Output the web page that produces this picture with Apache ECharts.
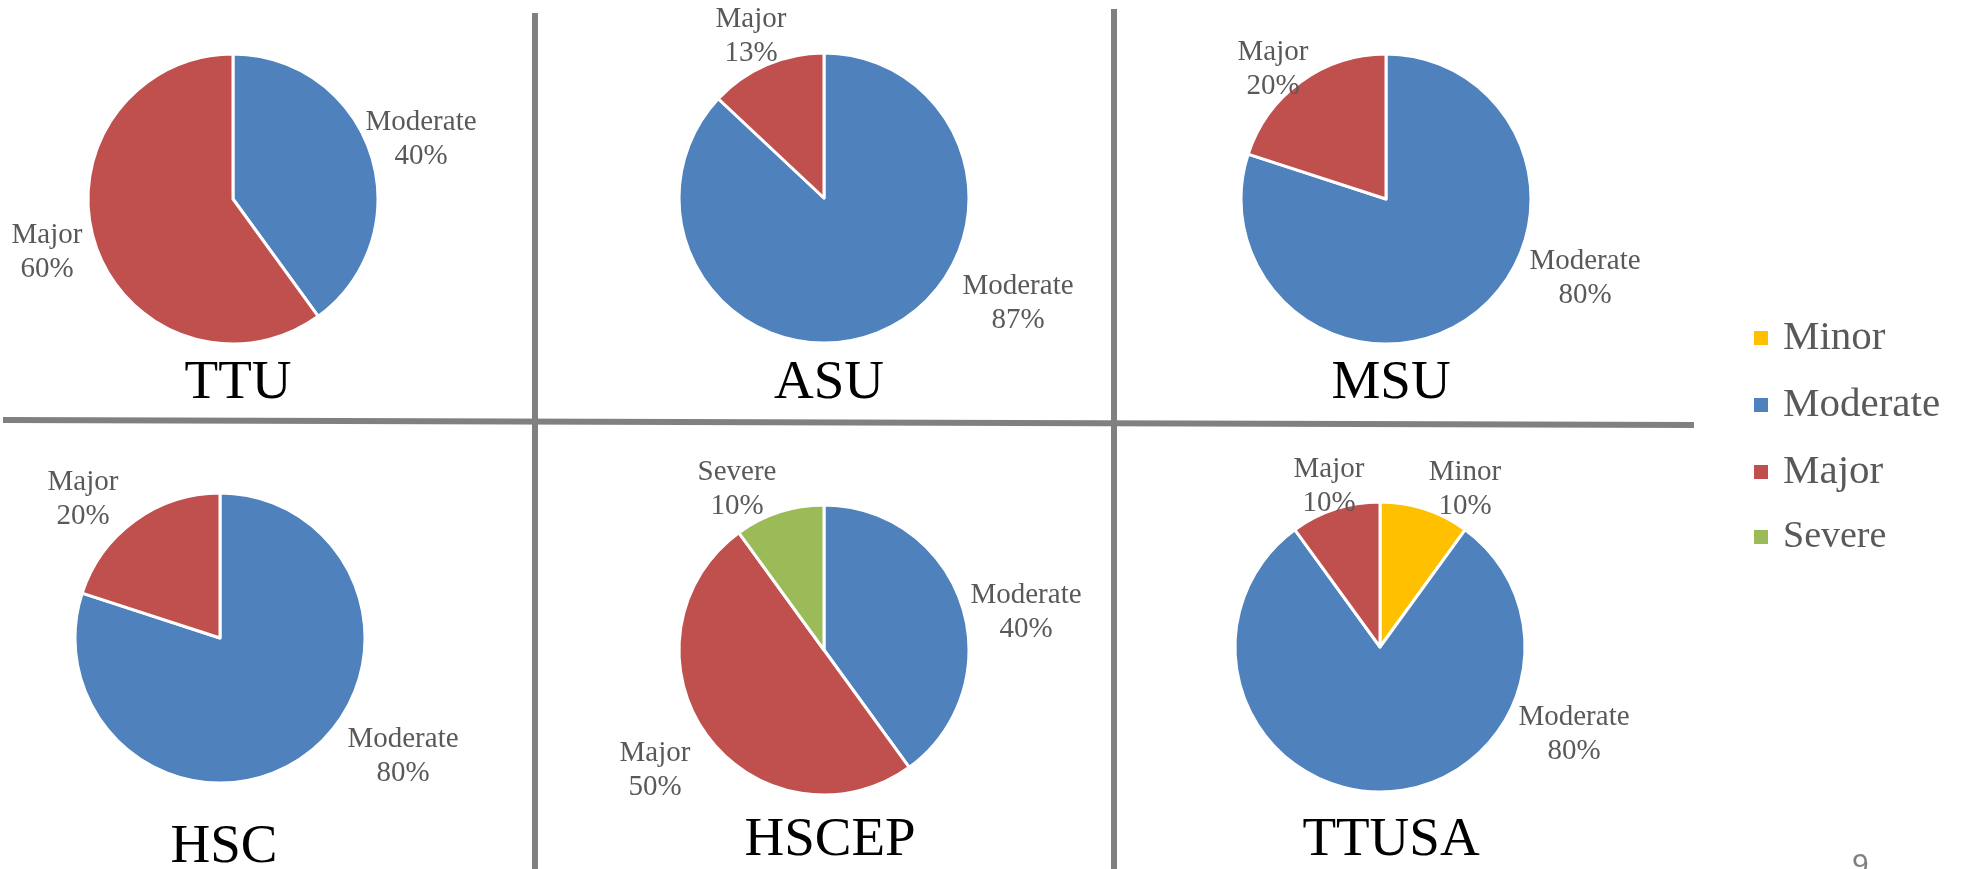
<!DOCTYPE html>
<html>
<head>
<meta charset="utf-8">
<script src="https://cdn.jsdelivr.net/npm/echarts@6/dist/echarts.min.js"></script>
<style>
  html, body { margin: 0; padding: 0; background: #fff; }
  #chart { width: 1967px; height: 869px; }
</style>
</head>
<body>
<div id="chart"></div>
<script>
// values per campus, in %
const campuses = ["TTU", "ASU", "MSU", "HSC", "HSCEP", "TTUSA"];
const categories = ["Minor", "Moderate", "Major", "Severe"];
const minor = [0, 0, 0, 0, 0, 10];
const moderate = [40, 87, 80, 80, 40, 80];
const major = [60, 13, 20, 20, 50, 10];
const severe = [0, 0, 0, 0, 10, 0];

const colors = {
  Minor: "#FFC000",
  Moderate: "#4F81BD",
  Major: "#C0504D",
  Severe: "#9BBB59",
};

// where each pie sits, and its title
const centers = [[233, 199], [824, 198], [1386, 199], [220, 638], [824, 650], [1380, 647]];
const titleY = [379, 379, 379, 843, 836, 836];
const titleX = [233, 824, 1386, 219, 825, 1386];

// label placement (offset of label centre from pie centre), Excel "best fit" look
const labelOffsets = {
  TTU: { Moderate: [188, -60], Major: [-186, 53] },
  ASU: { Major: [-73, -162], Moderate: [194, 105] },
  MSU: { Major: [-113, -130], Moderate: [199, 79] },
  HSC: { Major: [-137, -139], Moderate: [183, 118] },
  HSCEP: { Severe: [-87, -161], Moderate: [202, -38], Major: [-169, 120] },
  TTUSA: { Major: [-51, -161], Minor: [85, -158], Moderate: [194, 87] },
};

const values = { Minor: minor, Moderate: moderate, Major: major, Severe: severe };

const chart = echarts.init(document.getElementById("chart"));

const series = campuses.map((campus, i) => {
  const data = categories
    .filter((cat) => values[cat][i] > 0)
    .map((cat) => ({
      name: cat,
      value: values[cat][i],
      itemStyle: { color: colors[cat] },
    }));
  return {
    type: "pie",
    name: campus,
    center: centers[i],
    radius: 145,
    startAngle: 90,
    clockwise: true,
    avoidLabelOverlap: false,
    animation: false,
    data: data,
    itemStyle: { borderColor: "#fff", borderWidth: 3 },
    emphasis: { disabled: true },
    label: {
      show: true,
      position: "outside",
      formatter: "{b}\n{c}%",
      fontFamily: "Liberation Serif",
      fontSize: 29,
      lineHeight: 34,
      color: "#595959",
    },
    labelLine: { show: false },
    labelLayout: (params) => {
      const off = labelOffsets[campus][data[params.dataIndex].name];
      return {
        x: centers[i][0] + off[0],
        y: centers[i][1] + off[1],
        align: "center",
        verticalAlign: "middle",
      };
    },
  };
});

const option = {
  backgroundColor: "#fff",
  title: campuses.map((c, i) => ({
    text: c,
    left: titleX[i],
    top: titleY[i],
    textAlign: "center",
    textVerticalAlign: "middle",
    textStyle: {
      fontFamily: "Liberation Serif",
      fontSize: 55,
      fontWeight: "normal",
      color: "#000",
    },
  })),
  legend: {
    orient: "vertical",
    left: 1747,
    top: 312,
    itemWidth: 16,
    itemHeight: 16,
    itemGap: 25,
    data: categories.map((c) => ({
      name: c,
      icon: "rect",
      textStyle: c === "Severe" ? { fontSize: 38, lineHeight: 34 } : {},
    })),
    textStyle: {
      fontFamily: "Liberation Serif",
      fontSize: 41,
      lineHeight: 42,
      color: "#595959",
      padding: [0, 0, 0, 9],
    },
    selectedMode: false,
  },
  graphic: [
    { type: "line", shape: { x1: 535, y1: 13, x2: 535, y2: 869 }, style: { stroke: "#808080", lineWidth: 6 } },
    { type: "line", shape: { x1: 1114, y1: 9, x2: 1114, y2: 869 }, style: { stroke: "#808080", lineWidth: 6 } },
    { type: "line", shape: { x1: 3, y1: 420, x2: 1694, y2: 425 }, style: { stroke: "#808080", lineWidth: 6 } },
    {
      type: "text",
      left: 1852,
      top: 851,
      style: { text: "9", font: "30px 'Liberation Sans'", fill: "#7f7f7f" },
    },
  ],
  series: series,
};

chart.setOption(option);
</script>
</body>
</html>
